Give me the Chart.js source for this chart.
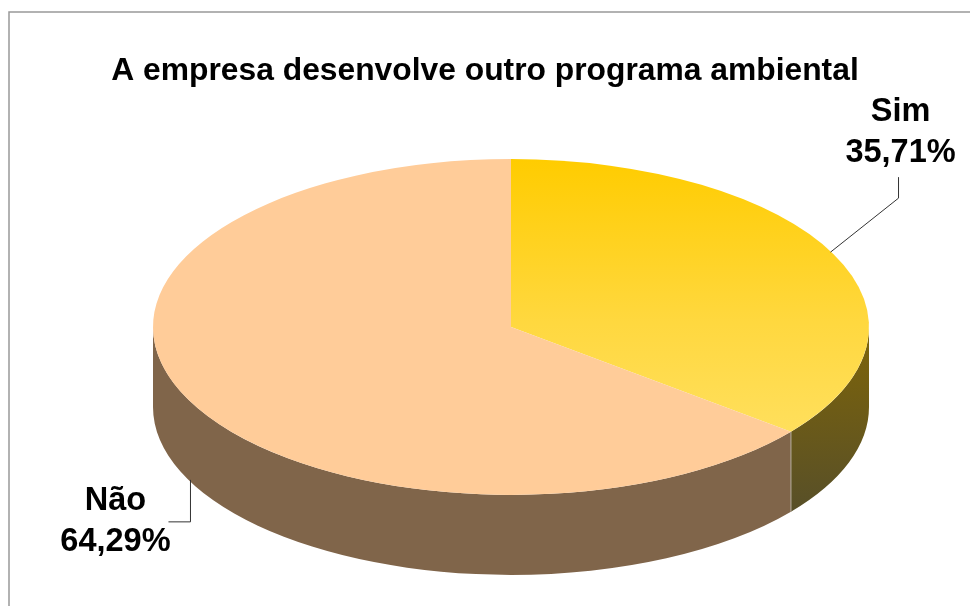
<!DOCTYPE html>
<html>
<head>
<meta charset="utf-8">
<title>A empresa desenvolve outro programa ambiental</title>
<script src="https://cdn.jsdelivr.net/npm/chart.js@4/dist/chart.umd.min.js"></script>
<style>
  html, body { margin: 0; padding: 0; background: #ffffff; }
  #wrap { width: 970px; height: 606px; }
</style>
</head>
<body>
<div id="wrap"><canvas id="pie" width="970" height="606"></canvas></div>
<script>
const chartTitle = 'A empresa desenvolve outro programa ambiental';
const categories = ['Sim', 'Não'];
const shares = [35.71, 64.29];

const topColors = ['#FFCC00', '#FFCC99'];
const sideColors = ['#7F6508', '#80654A'];
const FONT = '"Liberation Sans", Arial, sans-serif';

// Projection of the flat pie onto the tilted disc.
const disc = { centerX: 511, centerY: 327, radius: 358, squash: 0.469, depth: 80 };

// Offsets of each callout from the rim point: leader start, elbow, leader end and text block.
const callouts = [
  { start: [-3, -2], elbow: [65, -56], end: [65, -77], text: [67, -142], rimDepth: 0 },
  { start: [2, 0], elbow: [2, 42], end: [-20, 42], text: [-73, 21], rimDepth: 1 }
];

function fmt(v) { return v.toFixed(2).replace('.', ',') + '%'; }

const tiltedPie = {
  id: 'tiltedPie',
  beforeDraw(chart) {
    const c = chart.ctx;
    c.save();
    c.strokeStyle = '#999999';
    c.lineWidth = 1.5;
    c.beginPath();
    c.moveTo(9, 606);
    c.lineTo(9, 12);
    c.lineTo(970, 12);
    c.stroke();
    c.restore();
  },
  beforeDatasetsDraw(chart) {
    const c = chart.ctx;
    const ry = disc.radius * disc.squash;
    const arcs = chart.getDatasetMeta(0).data;

    // Rim wall, only the part of each slice that faces the viewer.
    arcs.forEach((arc, i) => {
      const a = Math.max(arc.startAngle, 0);
      const b = Math.min(arc.endAngle, Math.PI);
      if (b <= a) return;
      c.beginPath();
      c.ellipse(disc.centerX, disc.centerY, disc.radius, ry, 0, a, b);
      c.ellipse(disc.centerX, disc.centerY + disc.depth, disc.radius, ry, 0, b, a, true);
      c.closePath();
      if (i === 0) {
        const g = c.createLinearGradient(0, disc.centerY, 0, disc.centerY + ry + disc.depth - 20);
        g.addColorStop(0, sideColors[0]);
        g.addColorStop(1, '#4E4A30');
        c.fillStyle = g;
      } else {
        c.fillStyle = sideColors[i];
      }
      c.fill();
    });

    // Pale seam where the two walls meet.
    const seam = arcs[0].endAngle;
    const sx = disc.centerX + disc.radius * Math.cos(seam);
    const sy = disc.centerY + ry * Math.sin(seam);
    c.strokeStyle = '#B5AB9C';
    c.lineWidth = 1;
    c.beginPath();
    c.moveTo(sx, sy);
    c.lineTo(sx, sy + disc.depth);
    c.stroke();

    // Flatten the slices onto the disc.
    const first = arcs[0];
    c.save();
    c.translate(disc.centerX, disc.centerY);
    c.scale(1, disc.squash);
    c.translate(-first.x, -first.y);
  },
  afterDatasetsDraw(chart) {
    const c = chart.ctx;
    c.restore();

    const ry = disc.radius * disc.squash;
    chart.getDatasetMeta(0).data.forEach((arc, i) => {
      const mid = (arc.startAngle + arc.endAngle) / 2;
      const co = callouts[i];
      const x0 = disc.centerX + disc.radius * Math.cos(mid);
      const y0 = disc.centerY + ry * Math.sin(mid) + co.rimDepth * disc.depth;

      c.save();
      c.strokeStyle = '#333333';
      c.lineWidth = 1;
      c.beginPath();
      c.moveTo(x0 + co.start[0], y0 + co.start[1]);
      c.lineTo(x0 + co.elbow[0], y0 + co.elbow[1]);
      c.lineTo(x0 + co.end[0], y0 + co.end[1]);
      c.stroke();

      c.fillStyle = '#000000';
      c.font = 'bold 32.5px ' + FONT;
      c.textAlign = 'center';
      c.textBaseline = 'middle';
      c.fillText(categories[i], x0 + co.text[0], y0 + co.text[1]);
      c.fillText(fmt(shares[i]), x0 + co.text[0], y0 + co.text[1] + 41);
      c.restore();
    });
  }
};

new Chart(document.getElementById('pie'), {
  type: 'pie',
  plugins: [tiltedPie],
  data: {
    labels: categories,
    datasets: [{
      data: shares,
      clip: false,
      radius: disc.radius,
      borderWidth: 0,
      backgroundColor(ctx) {
        if (ctx.dataIndex !== 0) return topColors[ctx.dataIndex];
        const area = ctx.chart.chartArea;
        if (!area) return topColors[0];
        const my = (area.top + area.bottom) / 2;
        const g = ctx.chart.ctx.createLinearGradient(0, my - disc.radius, 0, my + disc.radius * 0.62);
        g.addColorStop(0, '#FFCC00');
        g.addColorStop(0.6, '#FFD83F');
        g.addColorStop(1, '#FFDF5C');
        return g;
      }
    }]
  },
  options: {
    responsive: false,
    animation: false,
    layout: { padding: 0 },
    plugins: {
      legend: { display: false },
      tooltip: { enabled: false },
      title: {
        display: true,
        text: chartTitle,
        color: '#000000',
        font: { family: FONT, size: 31.8, weight: 'bold' },
        padding: { top: 52.5, bottom: 10 }
      }
    }
  }
});
</script>
</body>
</html>
